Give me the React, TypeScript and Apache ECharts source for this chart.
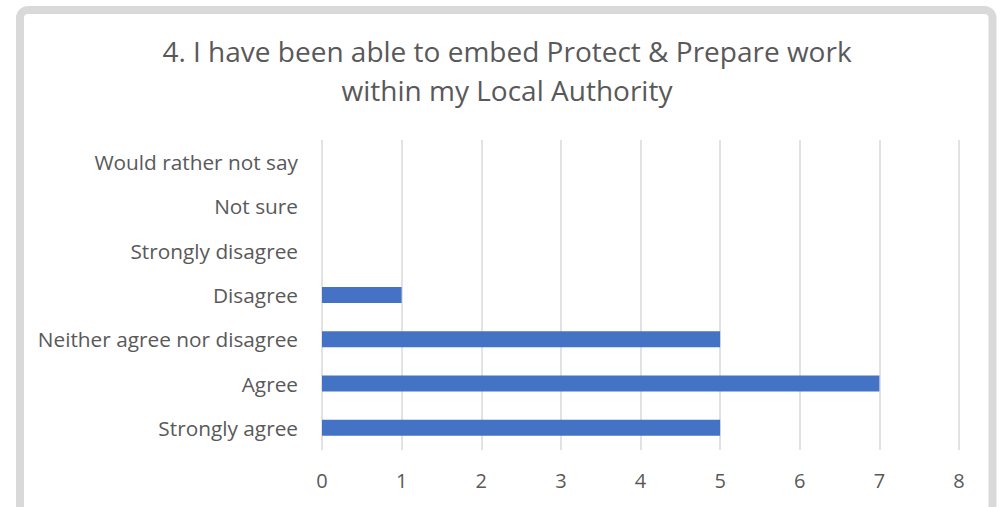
import React, { useEffect, useRef } from "react";
import * as echarts from "echarts";

const titleLines = ["4. I have been able to embed Protect & Prepare work", "within my Local Authority"];
const categories = [
  "Strongly agree",
  "Agree",
  "Neither agree nor disagree",
  "Disagree",
  "Strongly disagree",
  "Not sure",
  "Would rather not say",
];
const values = [5, 7, 5, 1, 0, 0, 0];
const xTicks = [0, 8, 1];

export default function App() {
  const ref = useRef<HTMLDivElement>(null);
  useEffect(() => {
    if (!ref.current) return;
    const chart = echarts.init(ref.current, null, { renderer: "svg" });
    const font = "'Open Sans', 'Liberation Sans', sans-serif";
    chart.setOption({
      animation: false,
      backgroundColor: "#ffffff",
      title: {
        text: titleLines.join("\n"),
        left: 502,
        textAlign: "center",
        top: 26,
        textStyle: {
          fontFamily: font,
          fontSize: 28,
          fontWeight: "normal",
          color: "#595959",
          lineHeight: 39,
        },
      },
      graphic: [
        {
          type: "rect",
          shape: { x: 20, y: 10, width: 972.5, height: 600, r: 8 },
          style: { fill: "none", stroke: "#d9d9d9", lineWidth: 8 },
          silent: true,
        },
      ],
      grid: { left: 322, right: 41, top: 140, bottom: 57, containLabel: false },
      xAxis: {
        type: "value",
        min: xTicks[0],
        max: xTicks[1],
        interval: xTicks[2],
        axisLine: { show: false },
        axisTick: { show: false },
        axisLabel: { color: "#595959", fontSize: 20, fontFamily: font, margin: 20 },
        splitLine: { show: true, lineStyle: { color: "#d9d9d9", width: 1.5 } },
      },
      yAxis: {
        type: "category",
        data: categories,
        axisLine: { show: false },
        axisTick: { show: false },
        axisLabel: { color: "#595959", fontSize: 20.8, fontFamily: font, margin: 24 },
        splitLine: { show: false },
      },
      series: [
        {
          type: "bar",
          data: values,
          barWidth: 16,
          itemStyle: { color: "#4472c4" },
        },
      ],
    });
    return () => chart.dispose();
  }, []);
  return (
    <div
      ref={ref}
      style={{ position: "fixed", left: 0, top: 0, width: 1000, height: 507 }}
    />
  );
}
